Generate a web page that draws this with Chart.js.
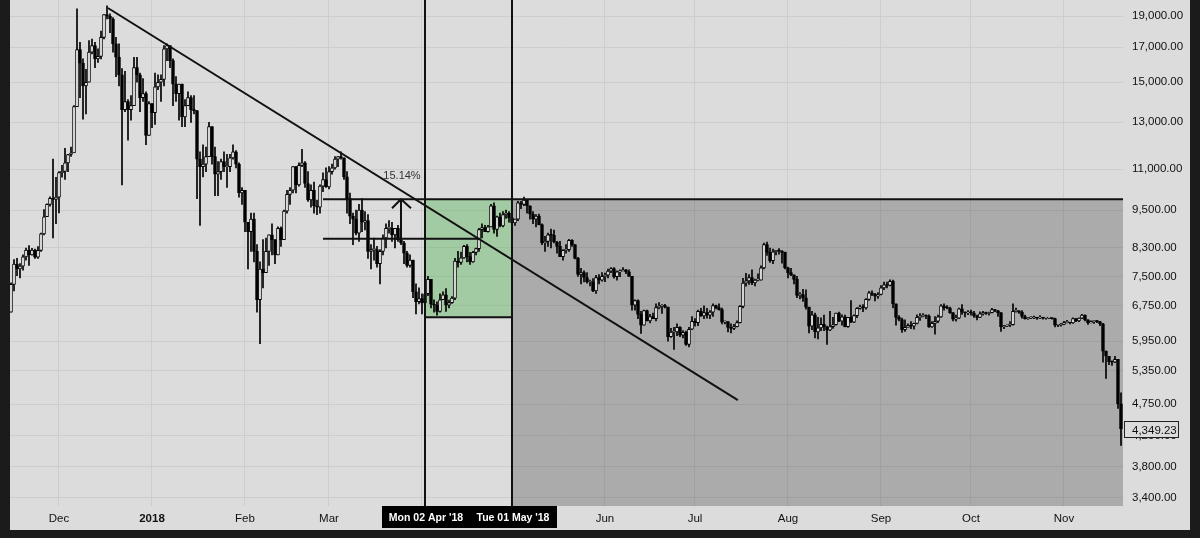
<!DOCTYPE html>
<html>
<head>
<meta charset="utf-8">
<script src="https://cdn.jsdelivr.net/npm/chart.js@4/dist/chart.umd.min.js"></script>
<style>
  html, body { margin: 0; padding: 0; width: 1200px; height: 538px; overflow: hidden; background: #1b1b1b; }
  #wrap { position: absolute; left: 10px; top: 0; width: 1180px; height: 530px; background: #dcdcdc; }
</style>
</head>
<body>
<div id="wrap"><canvas id="chart" width="1180" height="530"></canvas></div>
<script>
// ===============================
// Data (daily candles, day 0 = 15 Nov 2017)
// ===============================
const firstOpen = 6600;

const highs = [
  // Nov 2017 (15-30)
  7330, 7960, 8000, 7850, 8100, 8300, 8370, 8290, 8270, 8340, 8750, 9520, 9720, 9960, 11400, 10680,
  // Dec
  10900, 11150, 11850, 11600, 11900, 13800, 19500, 17300, 16300, 15700, 17400, 17500, 17300, 16900, 18000, 19100,
  19700, 19150, 18900, 17600, 17200, 15750, 15600, 14100, 14300, 16400, 16400, 15500, 15200, 14500, 14000,
  // Jan 2018
  13900, 15500, 15400, 15400, 17100, 17200, 17100, 16300, 15300, 14900, 14900, 14100, 14500, 14300, 14300, 13550,
  11700, 12000, 11900, 13000, 12800, 11900, 11300, 11400, 11700, 11600, 11600, 12000, 11750, 11250, 10300,
  // Feb
  10200, 9100, 9400, 9400, 8400, 7900, 8550, 8600, 8700, 9050, 8550, 8950, 8950, 9500,
  10200, 10300, 11100, 11100, 11250, 11800, 11300, 10900, 10400, 10500, 9850, 10400, 10850, 11050,
  // Mar
  11100, 11200, 11500, 11500, 11700, 11450, 10900, 10100, 9400, 9500, 9700, 9900, 9450, 9350, 8400, 8600,
  8350, 8250, 8700, 9050, 9150, 9100, 8900, 9000, 8700, 8500, 8200, 8100, 7950, 7300, 7200,
  // Apr
  7050, 7100, 7500, 7420, 6900, 6850, 7050, 7100, 7180, 6890, 6980, 8000, 8200, 8180, 8380,
  8400, 8170, 8200, 8300, 8900, 9050, 9000, 9000, 9700, 9750, 9300, 9400, 9450, 9500, 9450,
  // May
  9250, 9200, 9800, 9800, 9950, 9850, 9650, 9450, 9350, 9370, 9050, 8650, 8750, 8880, 8850, 8500,
  8500, 8250, 8400, 8560, 8550, 8400, 8030, 7720, 7650, 7600, 7400, 7440, 7530, 7550, 7600,
  // Jun
  7590, 7700, 7740, 7740, 7650, 7680, 7740, 7690, 7680, 7500, 6900, 6900, 6620, 6650, 6650,
  6550, 6580, 6800, 6830, 6780, 6790, 6720, 6230, 6250, 6330, 6270, 6180, 6170, 6250, 6500,
  // Jul
  6450, 6650, 6690, 6750, 6690, 6640, 6800, 6770, 6800, 6700, 6400, 6380, 6330, 6320, 6400, 6760,
  7450, 7580, 7550, 7680, 7430, 7570, 7790, 8450, 8480, 8300, 8270, 8230, 8280, 8220, 8180,
  // Aug
  7750, 7720, 7540, 7500, 7080, 7160, 7150, 6720, 6620, 6580, 6480, 6470, 6530, 6280, 6620, 6480,
  6580, 6600, 6540, 6530, 6480, 6880, 6540, 6710, 6770, 6780, 6930, 7110, 7120, 7060, 7080,
  // Sep
  7260, 7350, 7350, 7410, 7400, 6800, 6520, 6460, 6420, 6330, 6380, 6350, 6540, 6570, 6570,
  6540, 6540, 6380, 6500, 6530, 6780, 6800, 6760, 6720, 6590, 6530, 6700, 6780, 6610, 6640,
  // Oct
  6650, 6620, 6530, 6610, 6620, 6600, 6600, 6690, 6670, 6640, 6590, 6300, 6310, 6380, 6800, 6700,
  6640, 6640, 6530, 6480, 6500, 6510, 6480, 6520, 6480, 6480, 6480, 6470, 6460, 6320, 6340,
  // Nov (1-20)
  6390, 6410, 6360, 6470, 6450, 6470, 6550, 6540, 6430, 6400, 6400, 6410, 6390, 6340, 5750, 5640,
  5550, 5640, 5580, 4950
];

const lows = [
  6600, 7120, 7520, 7460, 7670, 7950, 7800, 8090, 8000, 8000, 8200, 8700, 9300, 9640, 8600, 9050,
  9410, 10690, 10600, 10900, 11510, 11660, 13750, 14200, 13150, 13400, 15000, 16600, 15800, 16100, 16300, 17500,
  18800, 17900, 16700, 15300, 14800, 10400, 13500, 12200, 13100, 13800, 15000, 13500, 14000, 12000, 12400,
  12750, 12900, 14600, 14000, 14800, 16200, 15800, 13800, 14000, 13100, 12800, 12800, 13800, 13000, 13400, 9900,
  9000, 10700, 10900, 11500, 11200, 10000, 10000, 10600, 10900, 10300, 10900, 11400, 11050, 9950, 9700,
  8800, 7700, 8200, 7900, 6600, 5900, 7200, 7600, 7800, 8100, 7850, 8100, 8350, 8550,
  9400, 9700, 10100, 10100, 10350, 11100, 10300, 9800, 9600, 9400, 9350, 9400, 10150, 10300,
  10250, 10800, 11000, 11100, 11400, 10600, 9400, 9050, 8400, 8700, 8500, 8800, 8850, 8000, 7700, 7950,
  7750, 7300, 8100, 8300, 8750, 8500, 8300, 8500, 8400, 7850, 7750, 7750, 6950, 6560, 6800,
  6560, 6780, 7000, 6700, 6600, 6530, 6600, 6900, 6620, 6700, 6810, 6900, 7750, 7830, 8000,
  7900, 7830, 7880, 8100, 8200, 8600, 8800, 8780, 8950, 8750, 8650, 8950, 8950, 9220, 9100,
  8850, 9000, 9150, 9550, 9650, 9400, 9200, 9050, 8950, 9010, 8400, 8200, 8350, 8300, 8450, 8150,
  8050, 7950, 8150, 8200, 8350, 7980, 7500, 7300, 7350, 7320, 7250, 7100, 7060, 7300, 7370,
  7360, 7460, 7600, 7450, 7400, 7490, 7650, 7570, 7500, 6650, 6650, 6450, 6120, 6300, 6400,
  6350, 6450, 6400, 6680, 6570, 6700, 5950, 6030, 5780, 6070, 6050, 6020, 5860, 5830, 6200,
  6280, 6290, 6500, 6450, 6460, 6450, 6500, 6680, 6650, 6330, 6330, 6150, 6130, 6200, 6260, 6350,
  6700, 7240, 7290, 7280, 7250, 7380, 7400, 7700, 8080, 7880, 7850, 8100, 8120, 7860, 7700,
  7460, 7520, 7300, 6950, 6920, 6860, 6670, 6130, 6200, 6020, 6000, 6180, 6180, 5880, 6180, 6230,
  6300, 6380, 6300, 6260, 6250, 6360, 6360, 6470, 6670, 6610, 6670, 6880, 7000, 6870, 6930,
  7020, 7150, 7200, 7250, 6700, 6300, 6400, 6140, 6160, 6260, 6220, 6210, 6330, 6410, 6490,
  6450, 6250, 6250, 6100, 6360, 6480, 6650, 6680, 6570, 6400, 6390, 6450, 6550, 6490, 6540,
  6530, 6480, 6420, 6470, 6530, 6550, 6530, 6580, 6610, 6500, 6160, 6220, 6270, 6270, 6300, 6600,
  6570, 6460, 6440, 6430, 6450, 6450, 6430, 6450, 6440, 6440, 6450, 6440, 6260, 6270, 6280,
  6310, 6350, 6330, 6340, 6380, 6380, 6450, 6400, 6320, 6350, 6340, 6360, 6290, 5520, 5210, 5470,
  5460, 5510, 4680, 4100
];

const closes = [
  7290, 7840, 7700, 7780, 8040, 8240, 8100, 8240, 8030, 8230, 8730, 9280, 9700, 9910, 9870, 9950,
  10860, 10910, 11250, 11590, 11650, 13750, 16850, 16050, 14800, 15000, 16700, 17100, 16300, 16450, 17600, 19100,
  19000, 18800, 17200, 16400, 15400, 13600, 14000, 13600, 13800, 15800, 15400, 14200, 14400, 12400, 13900,
  13450, 14750, 15000, 15150, 16900, 17100, 16200, 14900, 14400, 14900, 13250, 13800, 14200, 13600, 13550, 11400,
  11100, 11200, 11500, 12800, 11500, 10800, 10900, 11300, 11100, 11100, 11450, 11700, 11200, 10100, 10200,
  9100, 8800, 9200, 8200, 6900, 7700, 7600, 8200, 8700, 8550, 8100, 8900, 8550, 9470,
  10050, 10200, 11100, 10400, 11150, 11250, 10450, 9850, 10200, 9650, 9600, 10350, 10600, 10320,
  10900, 11050, 11400, 11500, 11450, 10700, 9900, 9300, 9200, 8750, 9500, 9100, 9150, 8200, 8250, 8250,
  7850, 8200, 8600, 8900, 8900, 8700, 8900, 8550, 8450, 8150, 7800, 7950, 7100, 6850, 6930,
  6820, 7050, 7420, 6790, 6770, 6620, 6900, 7020, 6770, 6830, 6940, 7920, 7880, 8010, 8350,
  8050, 7900, 8170, 8280, 8860, 8930, 8800, 8950, 9650, 8870, 9280, 8980, 9350, 9400, 9240,
  9080, 9200, 9750, 9700, 9850, 9650, 9370, 9200, 9300, 9020, 8450, 8500, 8700, 8680, 8480, 8350,
  8050, 8230, 8250, 8530, 8400, 8000, 7550, 7600, 7470, 7350, 7350, 7120, 7470, 7400, 7500,
  7530, 7640, 7710, 7490, 7620, 7650, 7680, 7620, 7500, 6770, 6880, 6550, 6300, 6640, 6400,
  6500, 6450, 6710, 6740, 6760, 6720, 6050, 6150, 6150, 6250, 6080, 6140, 5880, 6210, 6390,
  6360, 6620, 6510, 6590, 6530, 6600, 6760, 6710, 6660, 6370, 6380, 6250, 6230, 6270, 6360, 6740,
  7320, 7380, 7470, 7330, 7400, 7400, 7730, 8400, 8170, 7930, 8190, 8230, 8210, 8170, 7730,
  7600, 7540, 7420, 7010, 7030, 6950, 6720, 6280, 6540, 6150, 6240, 6320, 6260, 6190, 6270, 6310,
  6580, 6390, 6490, 6270, 6480, 6370, 6520, 6690, 6730, 6700, 6910, 7070, 7040, 6990, 7030,
  7200, 7280, 7260, 7370, 6800, 6480, 6430, 6200, 6250, 6300, 6280, 6340, 6480, 6500, 6530,
  6510, 6260, 6340, 6390, 6490, 6750, 6710, 6700, 6590, 6440, 6460, 6680, 6600, 6580, 6610,
  6580, 6510, 6480, 6560, 6590, 6570, 6590, 6660, 6640, 6590, 6260, 6280, 6300, 6310, 6620, 6630,
  6600, 6500, 6450, 6460, 6470, 6470, 6460, 6480, 6460, 6460, 6470, 6450, 6300, 6300, 6320,
  6360, 6360, 6350, 6450, 6400, 6460, 6530, 6420, 6350, 6380, 6400, 6380, 6330, 5740, 5640, 5530,
  5520, 5580, 4760, 4349.23
];

// month starts (day index) and their axis labels
const monthDays = [16, 47, 78, 106, 137, 167, 198, 228, 259, 290, 320, 351];
const monthLabels = ["Dec", "2018", "Feb", "Mar", "Apr", "May", "Jun", "Jul", "Aug", "Sep", "Oct", "Nov"];

// price axis ticks
const priceTicks = [19000, 17000, 15000, 13000, 11000, 9500, 8300, 7500, 6750, 5950, 5350, 4750, 4250, 3800, 3400];

// drawings
const trendLine = [{ x: 32.3, y: 19550 }, { x: 242.3, y: 4820 }];
const rangeDays = [138, 167];                 // Mon 02 Apr, Tue 01 May
const rangeLabels = ["Mon 02 Apr '18", "Tue 01 May '18"];
const boxTop = 9880;
const boxBottom = 6480;
const measureDays = [104, 156.3, 130];        // start, end of lower line, arrow
const measureLevels = [8580, 9880];
const measureText = "15.14%";
const lastPrice = 4349.23;

// ===============================
// Candle datasets
// ===============================
const opens = closes.map((c, i) => (i === 0 ? firstOpen : closes[i - 1]));
const wickData = highs.map((h, i) => ({ x: i, y: [lows[i], h] }));
const bodyData = closes.map((c, i) => ({ x: i, y: [opens[i], c] }));
const bodyColors = closes.map((c, i) => (c >= opens[i] ? "#ffffff" : "#000000"));

const FONT = "'Liberation Sans', Arial, sans-serif";
Chart.defaults.font.family = FONT;

const fmt = (v) => v.toLocaleString("en-US", { minimumFractionDigits: 2, maximumFractionDigits: 2 });

// scales reserve room for half a label at each end; the reference has none
function noPadding(s) {
  s.paddingTop = 0; s.paddingBottom = 0; s.paddingLeft = 0; s.paddingRight = 0;
}

// ===============================
// Drawing plugin (boxes, lines, labels)
// ===============================
const drawings = {
  id: "drawings",
  beforeDatasetsDraw(chart) {
    const { ctx, chartArea: a, scales: { x, y } } = chart;
    const xA = x.getPixelForValue(rangeDays[0]);
    const xB = x.getPixelForValue(rangeDays[1]);
    const yT = y.getPixelForValue(boxTop);
    const yB = y.getPixelForValue(boxBottom);
    ctx.save();
    ctx.fillStyle = "rgba(0,0,0,0.22)";
    ctx.fillRect(xB, yT, a.right - xB, a.bottom - yT);
    ctx.fillStyle = "rgba(70,175,70,0.38)";
    ctx.fillRect(xA, yT, xB - xA, yB - yT);
    ctx.restore();
  },
  afterDatasetsDraw(chart) {
    const { ctx, chartArea: a, scales: { x, y } } = chart;
    const xA = x.getPixelForValue(rangeDays[0]);
    const xB = x.getPixelForValue(rangeDays[1]);
    const yT = y.getPixelForValue(boxTop);
    const yB = y.getPixelForValue(boxBottom);
    const xm0 = x.getPixelForValue(measureDays[0]);
    const xm1 = x.getPixelForValue(measureDays[1]);
    const xArrow = x.getPixelForValue(measureDays[2]);
    const yLow = y.getPixelForValue(measureLevels[0]);
    const yHigh = y.getPixelForValue(measureLevels[1]);

    ctx.save();
    ctx.strokeStyle = "#111";
    ctx.lineWidth = 2;
    ctx.beginPath();
    // vertical range lines
    ctx.moveTo(xA, a.top); ctx.lineTo(xA, a.bottom);
    ctx.moveTo(xB, a.top); ctx.lineTo(xB, a.bottom);
    // top line (measure + boxes)
    ctx.moveTo(xm0, yT); ctx.lineTo(a.right, yT);
    // green box bottom
    ctx.moveTo(xA, yB); ctx.lineTo(xB, yB);
    // measure lower line
    ctx.moveTo(xm0, yLow); ctx.lineTo(xm1, yLow);
    // arrow
    ctx.moveTo(xArrow, yLow); ctx.lineTo(xArrow, yHigh);
    ctx.moveTo(xArrow - 9, yHigh + 9); ctx.lineTo(xArrow, yHigh); ctx.lineTo(xArrow + 10, yHigh + 9);
    ctx.stroke();

    ctx.fillStyle = "#333";
    ctx.font = "11px " + FONT;
    ctx.textAlign = "center";
    ctx.textBaseline = "middle";
    ctx.fillText(measureText, xArrow + 1, yHigh - 23);
    ctx.restore();
  },
  afterDraw(chart) {
    const { ctx, chartArea: a, scales: { x, y } } = chart;
    const xA = x.getPixelForValue(rangeDays[0]);
    const xB = x.getPixelForValue(rangeDays[1]);
    ctx.save();
    // crosshair date labels
    ctx.fillStyle = "#000";
    ctx.fillRect(xA - 43, a.bottom, xB - xA + 88, 22);
    ctx.fillStyle = "#fff";
    ctx.font = "bold 10.5px " + FONT;
    ctx.textAlign = "center";
    ctx.textBaseline = "middle";
    ctx.fillText(rangeLabels[0], xA + 1, a.bottom + 12);
    ctx.fillText(rangeLabels[1], xB + 1, a.bottom + 12);

    // last price label
    const yP = Math.round(y.getPixelForValue(lastPrice)) + 0.5;
    ctx.fillStyle = "#dcdcdc";
    ctx.fillRect(a.right + 1, yP - 8, 54, 16);
    ctx.strokeStyle = "#222";
    ctx.lineWidth = 1;
    ctx.strokeRect(a.right + 1.5, yP - 8, 54, 16);
    ctx.fillStyle = "#111";
    ctx.font = "11.5px " + FONT;
    ctx.textAlign = "left";
    ctx.fillText(fmt(lastPrice), a.right + 9, yP + 1);
    ctx.restore();
  }
};

// ===============================
// Chart
// ===============================
new Chart(document.getElementById("chart"), {
  type: "bar",
  data: {
    datasets: [
      {
        type: "line",
        data: trendLine,
        borderColor: "#111",
        borderWidth: 2,
        pointRadius: 0,
        order: 0
      },
      {
        data: bodyData,
        backgroundColor: bodyColors,
        borderColor: "#000",
        borderWidth: 1,
        borderSkipped: false,
        barThickness: 3,
        minBarLength: 1,
        grouped: false,
        order: 1
      },
      {
        data: wickData,
        backgroundColor: "#000",
        barThickness: 1,
        grouped: false,
        order: 2
      }
    ]
  },
  options: {
    responsive: false,
    animation: false,
    devicePixelRatio: 1,
    layout: { padding: 0 },
    plugins: { legend: { display: false }, tooltip: { enabled: false } },
    scales: {
      x: {
        type: "linear",
        min: -1 / 3,
        max: 370.67,
        offset: false,
        afterBuildTicks: (s) => { s.ticks = monthDays.map((v) => ({ value: v })); },
        afterFit: (s) => { s.height = 24; noPadding(s); },
        grid: { color: "#cdcdcd", drawTicks: false, offset: false },
        border: { display: false },
        ticks: {
          autoSkip: false,
          maxRotation: 0,
          padding: 6,
          color: "#111",
          font: (c) => ({ family: FONT, size: 11.5, weight: c.tick && c.tick.value === 47 ? "bold" : "normal" }),
          callback: (v) => monthLabels[monthDays.indexOf(v)]
        }
      },
      y: {
        type: "logarithmic",
        position: "right",
        min: 3304,
        max: 20117,
        afterBuildTicks: (s) => { s.ticks = priceTicks.map((v) => ({ value: v })); },
        afterFit: (s) => { s.width = 67; noPadding(s); },
        grid: { color: "#cdcdcd", drawTicks: false },
        border: { display: false },
        ticks: {
          autoSkip: false,
          padding: 9,
          color: "#111",
          font: { family: FONT, size: 11.5 },
          callback: (v) => fmt(v)
        }
      }
    }
  },
  plugins: [drawings]
});
</script>
</body>
</html>
